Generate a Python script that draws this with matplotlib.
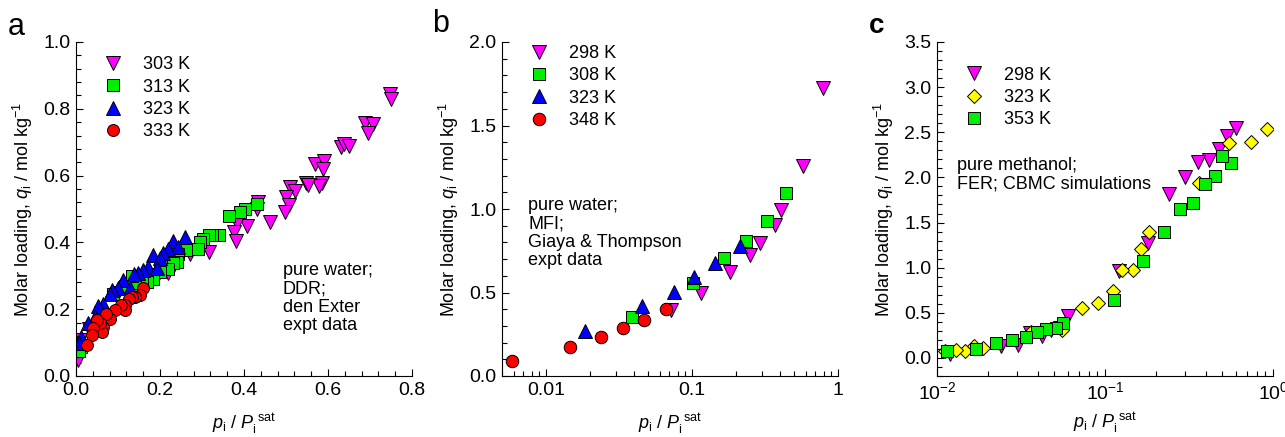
import matplotlib
matplotlib.use("Agg")
import matplotlib.pyplot as plt
from matplotlib.ticker import MultipleLocator, FixedLocator, FixedFormatter, LogLocator, NullFormatter

plt.rcParams["font.family"] = ["Liberation Sans", "DejaVu Sans"]
plt.rcParams["mathtext.fontset"] = "custom"
plt.rcParams["mathtext.rm"] = "Liberation Sans"
plt.rcParams["mathtext.it"] = "Liberation Sans:italic"
plt.rcParams["font.size"] = 13

# ---------------- panel a: water in DDR (den Exter) ----------------
a_labels = ["303 K", "313 K", "323 K", "333 K"]
a303_x = [0.748, 0.750, 0.687, 0.706, 0.696, 0.630, 0.638, 0.651, 0.569, 0.591,
          0.589, 0.585, 0.579, 0.548, 0.553, 0.510, 0.521, 0.499, 0.506, 0.498,
          0.462, 0.434, 0.430, 0.406, 0.394, 0.384, 0.375, 0.381, 0.317, 0.271,
          0.232, 0.218, 0.196, 0.150, 0.100, 0.057, 0.030, 0.010, 0.000, 0.004]
a303_y = [0.843, 0.828, 0.756, 0.754, 0.728, 0.686, 0.694, 0.688, 0.634, 0.644,
          0.621, 0.579, 0.569, 0.578, 0.571, 0.566, 0.554, 0.536, 0.513, 0.491,
          0.462, 0.521, 0.501, 0.450, 0.487, 0.459, 0.432, 0.405, 0.372, 0.365,
          0.327, 0.307, 0.302, 0.290, 0.250, 0.177, 0.140, 0.108, 0.098, 0.048]
a313_x = [0.430, 0.402, 0.390, 0.365, 0.341, 0.323, 0.317, 0.303, 0.295, 0.291,
          0.263, 0.244, 0.240, 0.232, 0.220, 0.200, 0.183, 0.168, 0.156, 0.140,
          0.133, 0.117, 0.089, 0.057, 0.013, 0.008]
a313_y = [0.514, 0.501, 0.490, 0.479, 0.422, 0.422, 0.422, 0.410, 0.402, 0.380,
          0.378, 0.365, 0.342, 0.339, 0.320, 0.312, 0.289, 0.282, 0.287, 0.279,
          0.299, 0.269, 0.247, 0.192, 0.088, 0.075]
a323_x = [0.260, 0.232, 0.244, 0.220, 0.208, 0.184, 0.200, 0.172, 0.192, 0.160,
          0.148, 0.137, 0.129, 0.113, 0.101, 0.085, 0.081, 0.065, 0.053, 0.045,
          0.029, 0.013, 0.008]
a323_y = [0.417, 0.405, 0.385, 0.379, 0.367, 0.362, 0.352, 0.327, 0.322, 0.317,
          0.307, 0.305, 0.262, 0.287, 0.262, 0.257, 0.247, 0.217, 0.209, 0.177,
          0.158, 0.118, 0.098]
a333_x = [0.160, 0.152, 0.140, 0.133, 0.125, 0.117, 0.117, 0.106, 0.094, 0.081,
          0.071, 0.065, 0.061, 0.057, 0.049, 0.041, 0.037, 0.027]
a333_y = [0.262, 0.242, 0.237, 0.237, 0.232, 0.212, 0.199, 0.212, 0.197, 0.172,
          0.187, 0.148, 0.133, 0.158, 0.167, 0.143, 0.123, 0.093]

# ---------------- panel b: water in MFI (Giaya & Thompson) ----------------
b_labels = ["298 K", "308 K", "323 K", "348 K"]
b298_x = [0.789, 0.577, 0.409, 0.372, 0.294, 0.251, 0.182, 0.115, 0.0724]
b298_y = [1.727, 1.258, 0.993, 0.903, 0.798, 0.724, 0.624, 0.495, 0.395]
b308_x = [0.441, 0.327, 0.235, 0.166, 0.101, 0.0387]
b308_y = [1.097, 0.929, 0.810, 0.704, 0.554, 0.355]
b323_x = [0.212, 0.144, 0.104, 0.0751, 0.0455, 0.0184]
b323_y = [0.778, 0.678, 0.594, 0.504, 0.419, 0.269]
b348_x = [0.0662, 0.0468, 0.0337, 0.0237, 0.0147, 0.00583]
b348_y = [0.399, 0.335, 0.285, 0.231, 0.175, 0.092]

# ---------------- panel c: methanol in FER (CBMC) ----------------
c_labels = ["298 K", "323 K", "353 K"]
c298_x = [0.600, 0.535, 0.477, 0.416, 0.358, 0.298, 0.240, 0.180, 0.121, 0.0603,
          0.0537, 0.048, 0.0424, 0.0356, 0.0304, 0.0242, 0.0119]
c298_y = [2.542, 2.456, 2.311, 2.192, 2.174, 2.008, 1.816, 1.271, 0.958, 0.461,
          0.332, 0.313, 0.239, 0.276, 0.147, 0.129, 0.048]
c323_x = [0.920, 0.736, 0.547, 0.363, 0.183, 0.164, 0.147, 0.127, 0.111, 0.0908,
          0.0733, 0.0555, 0.0365, 0.0188, 0.0165, 0.0146, 0.0129, 0.0111]
c323_y = [2.531, 2.395, 2.384, 1.942, 1.400, 1.205, 0.976, 0.976, 0.737, 0.608,
          0.553, 0.313, 0.284, 0.111, 0.129, 0.074, 0.092, 0.074]
c353_x = [0.560, 0.499, 0.450, 0.392, 0.334, 0.278, 0.223, 0.168, 0.113, 0.0562,
          0.0508, 0.0443, 0.0394, 0.0340, 0.0281, 0.0225, 0.0170, 0.0114]
c353_y = [2.163, 2.236, 2.015, 1.927, 1.713, 1.647, 1.393, 1.069, 0.637, 0.387,
          0.332, 0.321, 0.284, 0.232, 0.203, 0.166, 0.103, 0.081]

W, H = 1285, 437
fig = plt.figure(figsize=(W / 100, H / 100), dpi=100)


def make_axes(left_px, xpad=9):
    ax = fig.add_axes([left_px / W, 61 / H, 336 / W, 334 / H])
    for s in ["top", "right"]:
        ax.spines[s].set_visible(False)
    ax.tick_params(which="both", direction="in", labelsize=14, colors="black")
    ax.tick_params(which="major", length=5, width=0.8, pad=4)
    ax.tick_params(which="minor", length=3.5, width=0.8)
    ax.set_ylabel(r"Molar loading, $q_\mathrm{i}$ / mol kg$^{-1}$", fontsize=13, labelpad=6)
    ax.set_xlabel(r"$p_\mathrm{i}$ / $P_\mathrm{i}^{\ \mathrm{sat}}$", fontsize=13, labelpad=xpad)
    return ax


def add_legend(ax, x, y):
    ax.legend(loc="upper left", bbox_to_anchor=(x, y), frameon=False, fontsize=13,
              handletextpad=1.15, labelspacing=0.3, handlelength=1.0)


mk = dict(markeredgecolor="black", markeredgewidth=0.7, linestyle="none")

# ----- a -----
ax = make_axes(76)
ax.plot(a303_x, a303_y, "v", color="#ff00ff", ms=9.5, label=a_labels[0], **mk)
ax.plot(a313_x, a313_y, "s", color="#00ee00", ms=8, label=a_labels[1], **mk)
ax.plot(a323_x, a323_y, "^", color="#0000ff", ms=9.5, label=a_labels[2], **mk)
ax.plot(a333_x, a333_y, "o", color="#ff0000", ms=8.6, label=a_labels[3], **mk)
ax.set_xlim(0, 0.8)
ax.set_ylim(0, 1.0)
ax.xaxis.set_major_locator(FixedLocator([0, 0.2, 0.4, 0.6, 0.8]))
ax.xaxis.set_major_formatter(FixedFormatter(["0.0", "0.2", "0.4", "0.6", "0.8"]))
ax.xaxis.set_minor_locator(MultipleLocator(0.04))
ax.yaxis.set_major_locator(FixedLocator([0, 0.2, 0.4, 0.6, 0.8, 1.0]))
ax.yaxis.set_major_formatter(FixedFormatter(["0.0", "0.2", "0.4", "0.6", "0.8", "1.0"]))
ax.yaxis.set_minor_locator(MultipleLocator(0.04))
add_legend(ax, 0.035, 1.006)
ax.text(0.615, 0.34, "pure water;\nDDR;\nden Exter\nexpt data", transform=ax.transAxes,
        fontsize=13, va="top", ha="left", linespacing=1.1)
fig.text(8 / W, 1 - 27 / H, "a", fontsize=22, ha="left", va="center")

# ----- b -----
ax = make_axes(502)
ax.plot(b298_x, b298_y, "v", color="#ff00ff", ms=9.5, label=b_labels[0], **mk)
ax.plot(b308_x, b308_y, "s", color="#00ee00", ms=8, label=b_labels[1], **mk)
ax.plot(b323_x, b323_y, "^", color="#0000ff", ms=9.5, label=b_labels[2], **mk)
ax.plot(b348_x, b348_y, "o", color="#ff0000", ms=9, label=b_labels[3], **mk)
ax.set_xscale("log")
ax.set_xlim(0.005, 1)
ax.set_ylim(0, 2.0)
ax.xaxis.set_major_locator(FixedLocator([0.01, 0.1, 1]))
ax.xaxis.set_major_formatter(FixedFormatter(["0.01", "0.1", "1"]))
ax.xaxis.set_minor_locator(LogLocator(base=10, subs=range(2, 10)))
ax.xaxis.set_minor_formatter(NullFormatter())
ax.yaxis.set_major_locator(FixedLocator([0, 0.5, 1.0, 1.5, 2.0]))
ax.yaxis.set_major_formatter(FixedFormatter(["0.0", "0.5", "1.0", "1.5", "2.0"]))
ax.yaxis.set_minor_locator(MultipleLocator(0.1))
add_legend(ax, 0.035, 1.04)
ax.text(0.078, 0.535, "pure water;\nMFI;\nGiaya & Thompson\nexpt data", transform=ax.transAxes,
        fontsize=13, va="top", ha="left", linespacing=1.1)
fig.text(432 / W, 1 - 24 / H, "b", fontsize=22, ha="left", va="center")

# ----- c -----
ax = make_axes(937, xpad=5)
ax.plot(c298_x, c298_y, "v", color="#ff00ff", ms=9.5, label=c_labels[0], **mk)
ax.plot(c323_x, c323_y, "D", color="#ffff00", ms=7.2, label=c_labels[1], **mk)
ax.plot(c353_x, c353_y, "s", color="#00ee00", ms=8, label=c_labels[2], **mk)
ax.set_xscale("log")
ax.set_xlim(0.01, 1)
ax.set_ylim(-0.2, 3.5)
ax.xaxis.set_major_locator(LogLocator(base=10))
ax.xaxis.set_minor_locator(LogLocator(base=10, subs=range(2, 10)))
ax.xaxis.set_minor_formatter(NullFormatter())
ax.yaxis.set_major_locator(FixedLocator([0, 0.5, 1.0, 1.5, 2.0, 2.5, 3.0, 3.5]))
ax.yaxis.set_major_formatter(FixedFormatter(["0.0", "0.5", "1.0", "1.5", "2.0", "2.5", "3.0", "3.5"]))
ax.yaxis.set_minor_locator(MultipleLocator(0.1))
add_legend(ax, 0.035, 0.975)
ax.text(0.06, 0.655, "pure methanol;\nFER; CBMC simulations", transform=ax.transAxes,
        fontsize=13, va="top", ha="left", linespacing=1.1)
fig.text(869 / W, 1 - 26 / H, "c", fontsize=20, fontweight="bold", ha="left", va="center")

fig.savefig("out.png", dpi=100)
